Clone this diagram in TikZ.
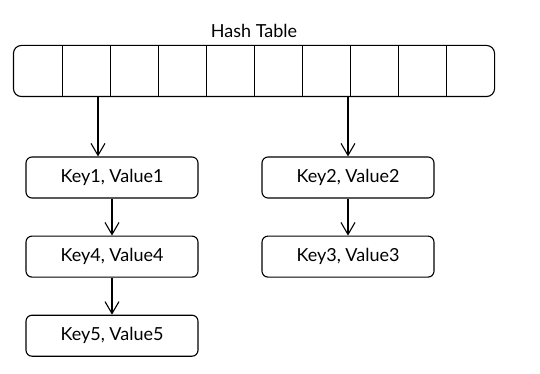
\documentclass[tikz,border=0pt]{standalone}
\usepackage{fontspec}
\setmainfont{Lato}
\usepackage{tikz}
\usetikzlibrary{arrows.meta,positioning,fit}

\begin{document}
\begin{tikzpicture}[x=1pt,y=-1pt,node distance=37pt,>={Straight Barb[length=12pt,width=14pt]},
  every node/.style={font=\fontsize{18}{21}\selectfont}, line width=1.1pt]
\tikzstyle{cell}=[minimum width=48pt, minimum height=50pt, inner sep=0pt]
\tikzstyle{entry}=[draw, rounded corners=6pt, minimum width=172pt, minimum height=41pt]
\useasboundingbox (0,0) rectangle (540,374);
% buckets
\foreach \i in {1,...,10}
  \node[cell] (c\i) at ({14+48*(\i-0.5)},71) {};
\node[draw, rounded corners=8pt, inner sep=0pt, fit=(c1) (c10)] (tbl) {};
\foreach \i in {1,...,9}
  \draw (c\i.north east) -- (c\i.south east);
\node[above=3pt of tbl] (title) {Hash Table};
% chains
\node[entry] (k1) at (112,177.5) {Key1, Value1};
\node[entry, below=of k1] (k4) {Key4, Value4};
\node[entry, below=of k4] (k5) {Key5, Value5};
\node[entry] (k2) at (348,177.5) {Key2, Value2};
\node[entry, below=of k2] (k3) {Key3, Value3};
\draw[->] ([xshift=-14pt]k1.north |- tbl.south) -- ([xshift=-14pt]k1.north);
\draw[->] (k2.north |- tbl.south) -- (k2.north);
\draw[->] (k1) -- (k4);
\draw[->] (k4) -- (k5);
\draw[->] (k2) -- (k3);
\end{tikzpicture}
\end{document}
